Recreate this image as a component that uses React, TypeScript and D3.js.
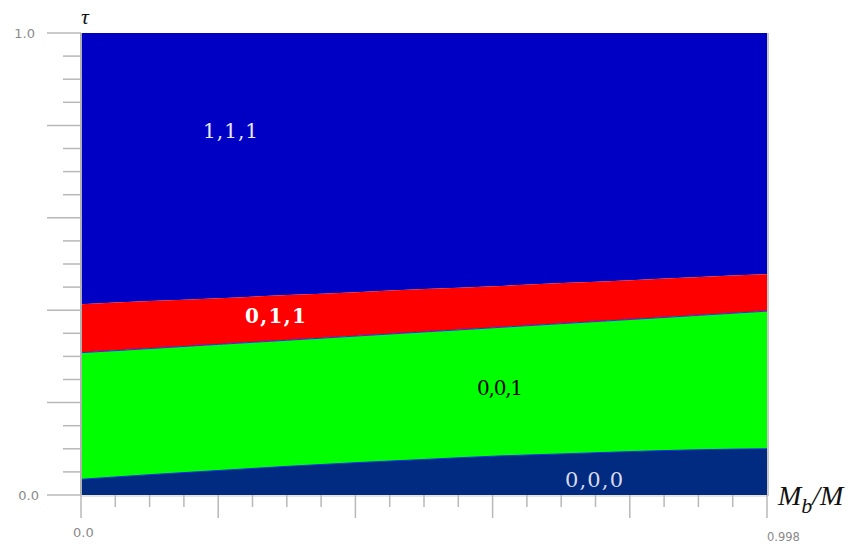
import React from "react";
import * as d3 from "d3";

// Data
const mbRatio = [0, 0.1, 0.2, 0.3, 0.4, 0.5, 0.6, 0.7, 0.8, 0.9, 0.998];
const boundary111 = [0.413, 0.42, 0.426, 0.433, 0.439, 0.446, 0.452, 0.459, 0.465, 0.472, 0.478];
const boundary011 = [0.308, 0.317, 0.326, 0.335, 0.344, 0.353, 0.362, 0.371, 0.38, 0.389, 0.398];
const boundary001 = [0.034, 0.044, 0.053, 0.062, 0.07, 0.077, 0.084, 0.089, 0.094, 0.098, 0.1];
const yTickLabels = ["0.0", "1.0"];
const xTickLabels = ["0.0", "0.998"];
const regionLabels = ["1,1,1", "0,1,1", "0,0,1", "0,0,0"];

const W = 860;
const H = 550;
const L = 81, R = 767, T = 33, B = 495;

export default function App() {
  const x = d3.scaleLinear().domain([0, 0.998]).range([L, R]);
  const y = d3.scaleLinear().domain([0, 1]).range([B, T]);

  const pts = mbRatio.map((m, i) => ({
    m,
    b1: boundary111[i],
    b2: boundary011[i],
    b3: boundary001[i],
  }));

  const area = (lo: (d: any) => number, hi: (d: any) => number) =>
    d3
      .area<any>()
      .x((d) => x(d.m))
      .y0((d) => y(lo(d)))
      .y1((d) => y(hi(d)))
      .curve(d3.curveMonotoneX)(pts) as string;

  const line = (f: (d: any) => number) =>
    d3
      .line<any>()
      .x((d) => x(d.m))
      .y((d) => y(f(d)))
      .curve(d3.curveMonotoneX)(pts) as string;

  const yTicks = d3.range(0, 21).map((i) => ({ v: i * 0.05, major: i % 4 === 0 }));
  const xTicks = d3.range(0, 21).map((i) => ({ v: (i * 0.998) / 20, major: i % 4 === 0 }));

  const tickColor = "#b8b8b8";
  const labelColor = "#8a8a8a";

  return (
    <svg
      width={W}
      height={H}
      style={{ position: "absolute", left: 0, top: 0, background: "#fff" }}
    >
      {/* regions */}
      <path d={area(() => 1, (d) => d.b1)} fill="#0000c4" />
      <path d={area((d) => d.b1, (d) => d.b2)} fill="#ff0000" />
      <path d={area((d) => d.b2, (d) => d.b3)} fill="#00ff00" />
      <path d={area((d) => d.b3, () => 0)} fill="#002b80" />
      <path d={line((d) => d.b2)} fill="none" stroke="#2030ff" strokeWidth={1} />
      <path d={line((d) => d.b3)} fill="none" stroke="#1030e0" strokeWidth={1} />

      {/* axis lines */}
      <line x1={L} x2={L} y1={T} y2={B} stroke="#b0b0b0" strokeWidth={2} />
      <line x1={R + 1} x2={R + 1} y1={T} y2={B + 1} stroke="#c8c8c8" strokeWidth={2} />
      <line x1={L} x2={R + 1} y1={B + 1} y2={B + 1} stroke="#c8c8c8" strokeWidth={1} />

      {/* y ticks */}
      {yTicks.map((t, i) => (
        <line
          key={"yt" + i}
          x1={t.major ? 47 : 63}
          x2={L}
          y1={y(t.v)}
          y2={y(t.v)}
          stroke={tickColor}
          strokeWidth={1.5}
        />
      ))}
      {/* x ticks */}
      {xTicks.map((t, i) => (
        <line
          key={"xt" + i}
          x1={x(t.v)}
          x2={x(t.v)}
          y1={B}
          y2={t.major ? 518 : 507}
          stroke={tickColor}
          strokeWidth={1.5}
        />
      ))}

      {/* tick labels */}
      <text x={35} y={y(1)} dy="0.35em" textAnchor="end" fontFamily="DejaVu Sans" fontSize={13} fill={labelColor}>
        {yTickLabels[1]}
      </text>
      <text x={39} y={y(0)} dy="0.35em" textAnchor="end" fontFamily="DejaVu Sans" fontSize={13} fill={labelColor}>
        {yTickLabels[0]}
      </text>
      <text x={73} y={532} dy="0.35em" textAnchor="start" fontFamily="DejaVu Sans" fontSize={13} fill={labelColor}>
        {xTickLabels[0]}
      </text>
      <text x={767} y={537} dy="0.35em" textAnchor="start" fontFamily="DejaVu Sans" fontSize={11.5} fill={labelColor}>
        {xTickLabels[1]}
      </text>

      {/* axis titles */}
      <text x={81} y={24} fontFamily="Liberation Serif" fontStyle="italic" fontSize={22} fill="#111">
        τ
      </text>
      <text x={778} y={505} fontFamily="Liberation Serif" fontStyle="italic" fontSize={28} fill="#111">
        M
        <tspan fontSize={22} dy={8}>b</tspan>
        <tspan dy={-8}>/M</tspan>
      </text>

      {/* region labels */}
      <text x={203} y={138} fontFamily="DejaVu Serif" fontSize={20} fill="#e8e8ff" textLength={55} lengthAdjust="spacing">
        {regionLabels[0]}
      </text>
      <text x={245} y={323} fontFamily="DejaVu Serif" fontWeight="bold" fontSize={20} fill="#ffffff" textLength={61} lengthAdjust="spacing">
        {regionLabels[1]}
      </text>
      <text x={477} y={395} fontFamily="DejaVu Serif" fontSize={20} fill="#000" textLength={46} lengthAdjust="spacing">
        {regionLabels[2]}
      </text>
      <text x={565} y={487} fontFamily="DejaVu Serif" fontSize={21} fill="#dcdcf0" textLength={58} lengthAdjust="spacing">
        {regionLabels[3]}
      </text>
    </svg>
  );
}
